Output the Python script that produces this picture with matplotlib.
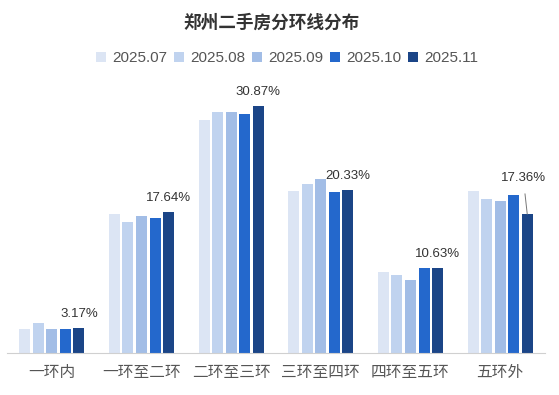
import matplotlib
matplotlib.use("Agg")
import matplotlib.pyplot as plt
import numpy as np

plt.rcParams["font.family"] = ["Liberation Sans", "Noto Sans CJK SC", "DejaVu Sans"]

# ── data ─────────────────────────────────────────────────────────────────────
categories = ["一环内", "一环至二环", "二环至三环", "三环至四环", "四环至五环", "五环外"]
months = ["2025.07", "2025.08", "2025.09", "2025.10", "2025.11"]
share_07 = [2.95, 17.35, 29.07, 20.30, 10.18, 20.30]
share_08 = [3.80, 16.39, 30.07, 21.07, 9.80, 19.20]
share_09 = [2.95, 17.14, 30.07, 21.70, 9.18, 18.95]
share_10 = [2.95, 16.89, 29.85, 20.07, 10.68, 19.80]
share_11 = [3.17, 17.64, 30.87, 20.33, 10.63, 17.36]
series = [share_07, share_08, share_09, share_10, share_11]

COLORS = ["#dce5f4", "#c0d3ef", "#a2bde6", "#2468cc", "#1b4587"]
TEXT = "#333333"
LABEL = "#555555"

# ── figure ───────────────────────────────────────────────────────────────────
fig = plt.figure(figsize=(5.59, 3.95), dpi=100, facecolor="white")
ax = fig.add_axes([7 / 559, 1 - 353 / 395, 538 / 559, (353 - 89) / 395])

x = np.arange(len(categories))
step, width = 0.151, 0.123
bars = []
for i, (vals, col, m) in enumerate(zip(series, COLORS, months)):
    b = ax.bar(x + (i - 2) * step, vals, width, color=col, label=m, zorder=2)
    bars.append(b)

# value labels on the latest month
last = bars[-1]
for j, rect in enumerate(last):
    v = share_11[j]
    cx = rect.get_x() + rect.get_width() / 2
    if categories[j] == "五环外":
        ax.annotate(f"{v:.2f}%", xy=(cx, v), xytext=(-4, 36),
                    textcoords="offset pixels", ha="center", va="center",
                    fontsize=9.5, color=TEXT,
                    arrowprops=dict(arrowstyle="-", color="#777777", lw=0.7,
                                    shrinkA=5, shrinkB=0))
    else:
        ax.annotate(f"{v:.2f}%", xy=(cx, v), xytext=(0, 8),
                    textcoords="offset pixels", ha="center", va="bottom",
                    fontsize=9.5, color=TEXT)

ax.set_xlim(-0.5, 5.5)
ax.set_ylim(0, 33)
ax.set_yticks([])
ax.set_xticks(x)
ax.set_xticklabels(categories, fontsize=11.3, color=LABEL)
ax.tick_params(axis="x", length=0, pad=9)
for s in ["top", "right", "left"]:
    ax.spines[s].set_visible(False)
ax.spines["bottom"].set_color("#d0d0d0")
ax.spines["bottom"].set_linewidth(0.8)

fig.text(272 / 559, 1 - 23 / 395, "郑州二手房分环线分布", ha="center", va="center",
         fontsize=12.7, fontweight="bold", color=TEXT)

fig.legend(loc="center", bbox_to_anchor=(287 / 559, 1 - 58 / 395), ncol=5,
           frameon=False, fontsize=11, handlelength=0.65, handleheight=0.65,
           handletextpad=0.4, columnspacing=0.45, labelcolor=LABEL)

plt.savefig("out.png", dpi=100, facecolor="white")
